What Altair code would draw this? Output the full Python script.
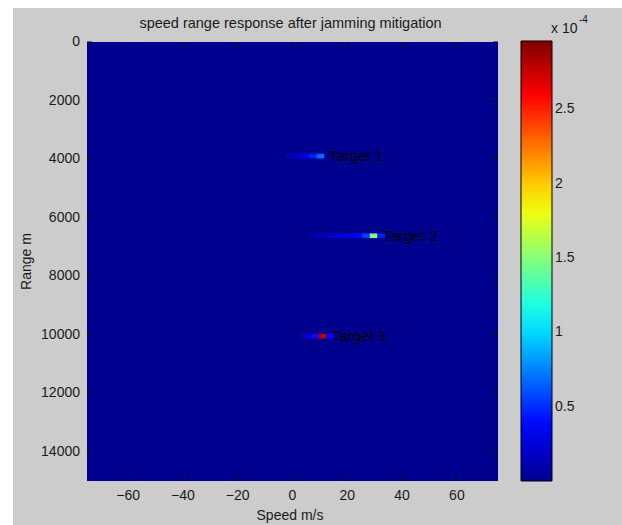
import altair as alt
import pandas as pd

# ---- data (values of power in units of 1e-4) ----
cell_speed = [-1.0, 1.8, 4.6, 7.4, 10.2,
              7.2, 10.0, 12.8, 15.6, 18.4, 21.2, 24.0, 26.8, 29.6, 32.4,
              5.3, 8.1, 10.9, 13.7]
cell_range = [3900, 3900, 3900, 3900, 3900,
              6620, 6620, 6620, 6620, 6620, 6620, 6620, 6620, 6620, 6620,
              10050, 10050, 10050, 10050]
cell_value = [0.12, 0.2, 0.3, 0.45, 0.68,
              0.1, 0.14, 0.18, 0.22, 0.25, 0.3, 0.38, 0.55, 1.5, 0.45,
              0.25, 0.4, 2.8, 0.35]

label_text = ["Target 1", "Target 2", "Target 3"]
label_speed = [13.2, 33.0, 14.3]
label_range = [3900, 6620, 10050]

speed_extent = [-75, 75]
range_extent = [0, 15000]
x_ticks = [-60, -40, -20, 0, 20, 40, 60]
y_ticks = [0, 2000, 4000, 6000, 8000, 10000, 12000, 14000]
cbar_ticks = [0.5, 1, 1.5, 2, 2.5]
cbar_extent = [0, 2.96]

# jet colormap anchors
jet_domain = [0, 0.37, 1.11, 1.85, 2.59, 2.96]
jet_colors = ["#00008f", "#0000ff", "#00ffff", "#ffff00", "#ff0000", "#800000"]

W, H = 411, 439
FONT = "Liberation Sans"
TXT = "#1a1a1a"
FS = 14

half_speed = 1.4
half_range = 80

cells = pd.DataFrame({"speed": cell_speed, "range": cell_range, "value": cell_value})
bg = pd.DataFrame({"s0": [speed_extent[0]], "s1": [speed_extent[1]],
                   "r0": [range_extent[0]], "r1": [range_extent[1]], "value": [0.0]})
labels = pd.DataFrame({"text": label_text, "speed": label_speed, "range": label_range})
xt = pd.DataFrame({"t": x_ticks})
yt = pd.DataFrame({"t": y_ticks})
ct = pd.DataFrame({"v": cbar_ticks})

xscale = alt.Scale(domain=speed_extent, nice=False, zero=False)
yscale = alt.Scale(domain=range_extent, nice=False, zero=False, reverse=True)
cscale = alt.Scale(domain=jet_domain, range=jet_colors, interpolate="rgb")
cyscale = alt.Scale(domain=cbar_extent, nice=False, zero=False)

legend = alt.Legend(orient="none", legendX=434, legendY=-1, direction="vertical",
                    gradientLength=440, gradientThickness=31, title=None,
                    values=cbar_ticks, format="~g", labelFont=FONT, labelFontSize=FS,
                    labelColor=TXT, labelOffset=3, gradientStrokeColor="black",
                    gradientStrokeWidth=1)

# gray figure background
fig_bg = alt.Chart(alt.Data(values=[{}])).mark_rect(color="#cccccc", clip=False).encode(
    x=alt.value(-74), x2=alt.value(535), y=alt.value(-34), y2=alt.value(483))

image_bg = alt.Chart(bg).mark_rect().encode(
    x=alt.X("s0:Q", scale=xscale, axis=None),
    x2="s1:Q",
    y=alt.Y("r0:Q", scale=yscale, axis=None),
    y2="r1:Q",
    color=alt.Color("value:Q", scale=cscale, legend=legend),
)

cell_layer = alt.Chart(cells).transform_calculate(
    s0=f"datum.speed - {half_speed}", s1=f"datum.speed + {half_speed}",
    r0=f"datum.range - {half_range}", r1=f"datum.range + {half_range}",
).mark_rect().encode(
    x=alt.X("s0:Q", scale=xscale, axis=None),
    x2="s1:Q",
    y=alt.Y("r0:Q", scale=yscale, axis=None),
    y2="r1:Q",
    color=alt.Color("value:Q", scale=cscale, legend=None),
)

text_layer = alt.Chart(labels).mark_text(align="left", baseline="middle", font=FONT,
                                         fontSize=15, color="#000000").encode(
    x=alt.X("speed:Q", scale=xscale, axis=None),
    y=alt.Y("range:Q", scale=yscale, axis=None),
    text="text:N",
)

# inward tick marks on all four sides (box on)
tick_style = dict(color="#111111", strokeWidth=1)
xb = alt.Chart(xt).mark_rule(**tick_style).encode(
    x=alt.X("t:Q", scale=xscale, axis=None), y=alt.value(H), y2=alt.value(H - 5))
xtop = alt.Chart(xt).mark_rule(**tick_style).encode(
    x=alt.X("t:Q", scale=xscale, axis=None), y=alt.value(0), y2=alt.value(5))
yl = alt.Chart(yt).mark_rule(**tick_style).encode(
    y=alt.Y("t:Q", scale=yscale, axis=None), x=alt.value(0), x2=alt.value(5))
yr = alt.Chart(yt).mark_rule(**tick_style).encode(
    y=alt.Y("t:Q", scale=yscale, axis=None), x=alt.value(W), x2=alt.value(W - 5))

# tick labels
xlab = alt.Chart(xt).mark_text(font=FONT, fontSize=FS, color=TXT, baseline="middle",
                               align="center").encode(
    x=alt.X("t:Q", scale=xscale, axis=None), y=alt.value(H + 15), text="t:Q")
ylab = alt.Chart(yt).mark_text(font=FONT, fontSize=FS, color=TXT, baseline="middle",
                               align="right").encode(
    y=alt.Y("t:Q", scale=yscale, axis=None), x=alt.value(-7), text="t:Q")

# colorbar ticks
cbl = alt.Chart(ct).mark_rule(**tick_style).encode(
    y=alt.Y("v:Q", scale=cyscale, axis=None), x=alt.value(434), x2=alt.value(438))
cbr = alt.Chart(ct).mark_rule(**tick_style).encode(
    y=alt.Y("v:Q", scale=cyscale, axis=None), x=alt.value(461), x2=alt.value(465))

one = alt.Data(values=[{}])
title_t = alt.Chart(one).mark_text(font=FONT, fontSize=14.5, color=TXT, align="center",
                                   baseline="alphabetic").encode(
    x=alt.value(203.5), y=alt.value(-14),
    text=alt.value("speed range response after jamming mitigation"))
xtitle = alt.Chart(one).mark_text(font=FONT, fontSize=FS, color=TXT, align="center",
                                  baseline="middle").encode(
    x=alt.value(203), y=alt.value(H + 35), text=alt.value("Speed m/s"))
ytitle = alt.Chart(one).mark_text(font=FONT, fontSize=FS, color=TXT, align="center",
                                  baseline="middle", angle=270).encode(
    x=alt.value(-60), y=alt.value(H / 2), text=alt.value("Range m"))
exp_main = alt.Chart(one).mark_text(
    align="left", baseline="alphabetic", font=FONT, fontSize=FS, color=TXT).encode(
    x=alt.value(464), y=alt.value(-9), text=alt.value("x 10"))
exp_sup = alt.Chart(one).mark_text(
    align="left", baseline="alphabetic", font=FONT, fontSize=10, color=TXT).encode(
    x=alt.value(492), y=alt.value(-19), text=alt.value("-4"))

chart = alt.layer(
    fig_bg, image_bg, cell_layer, text_layer, xb, xtop, yl, yr, xlab, ylab,
    cbl, cbr, title_t, xtitle, ytitle, exp_main, exp_sup
).resolve_scale(y="independent").properties(
    width=W, height=H,
    autosize=alt.AutoSizeParams(type="none"),
    padding={"left": 87, "top": 42, "right": 124, "bottom": 44},
    background="white",
).configure_view(stroke="black", strokeWidth=1)

chart.save("out.html", embed_options={"renderer": "svg", "actions": False})
